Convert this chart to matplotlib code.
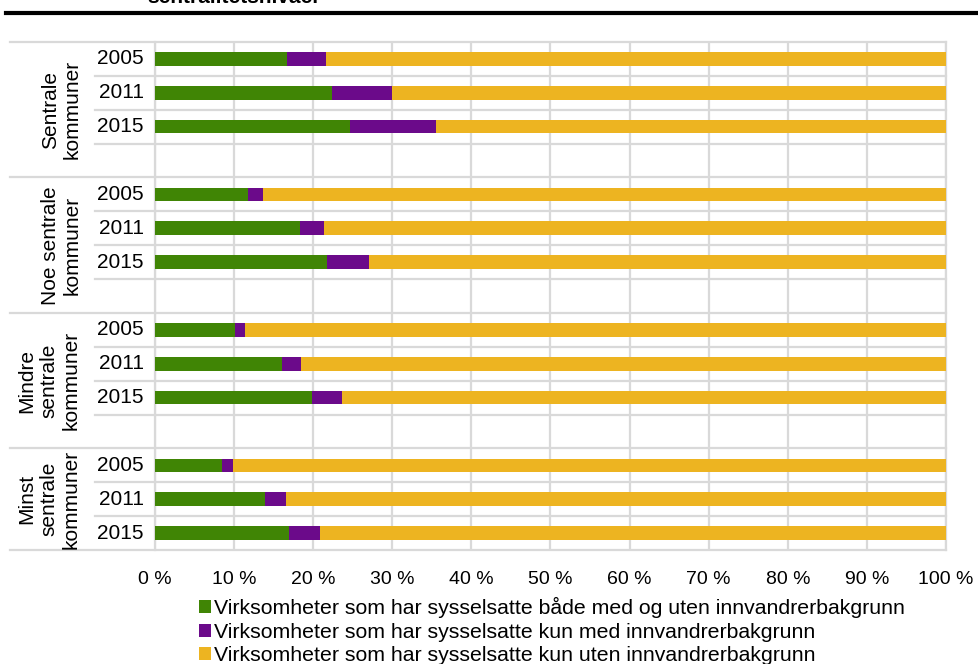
import numpy as np
import matplotlib.pyplot as plt
from matplotlib.patches import Patch

plt.rcParams["font.family"] = ["Liberation Sans", "DejaVu Sans"]

groups = ["Sentrale\nkommuner", "Noe sentrale\nkommuner",
          "Mindre\nsentrale\nkommuner", "Minst\nsentrale\nkommuner"]
years = ["2005", "2011", "2015"]

# andel virksomheter (%), rekkefølge: gruppe x år
both_share = [16.7, 22.4, 24.7,
              11.8, 18.3, 21.7,
              10.1, 16.0, 19.8,
              8.5, 13.9, 16.9]
only_immigrant = [4.9, 7.6, 10.8,
                  1.9, 3.1, 5.3,
                  1.3, 2.5, 3.8,
                  1.3, 2.6, 4.0]
only_native = [100 - a - b for a, b in zip(both_share, only_immigrant)]

series_labels = [
    "Virksomheter som har sysselsatte både med og uten innvandrerbakgrunn",
    "Virksomheter som har sysselsatte kun med innvandrerbakgrunn",
    "Virksomheter som har sysselsatte kun uten innvandrerbakgrunn",
]
colors = ["#408505", "#6b0a8a", "#edb421"]
grid_color = "#d9d9d9"

W, H = 979, 664
fig = plt.figure(figsize=(W / 100, H / 100), dpi=100)
ax = fig.add_axes([155 / W, 1 - 550 / H, (946 - 155) / W, (550 - 42) / H])

# posisjoner: 4 plasser per gruppe, siste plass tom
pos = np.array([g * 4 + i for g in range(len(groups)) for i in range(len(years))])

left = np.zeros(len(pos))
for vals, col in zip([both_share, only_immigrant, only_native], colors):
    ax.barh(pos, vals, left=left, height=0.4, color=col, zorder=3)
    left = left + np.array(vals)

ax.set_xlim(0, 100)
ax.set_ylim(14.5, -0.5)
ax.set_xticks(np.arange(0, 101, 10))
ax.set_xticklabels([f"{v} %" for v in range(0, 101, 10)], fontsize=14)
ax.tick_params(axis="x", length=0, pad=15)
ax.set_yticks([])
ax.grid(axis="x", color=grid_color, linewidth=1.6, zorder=0)
for s in ["top", "bottom"]:
    ax.spines[s].set_visible(False)
for s in ["left", "right"]:
    ax.spines[s].set_color(grid_color)
    ax.spines[s].set_linewidth(1.6)

# horisontale skillelinjer
ytr = ax.get_yaxis_transform()
span = 946 - 155
x_group = (10 - 155) / span
x_row = (95 - 155) / span
for k in range(15):
    y = k - 0.5
    start = x_group if k % 4 == 0 else x_row
    ax.plot([start, 1], [y, y], transform=ytr, color=grid_color,
            linewidth=1.6, clip_on=False, zorder=1)
ax.plot([x_group, 1], [14.5, 14.5], transform=ytr, color=grid_color,
        linewidth=1.6, clip_on=False, zorder=1)

# årstall og gruppenavn
x_year = (144 - 155) / span
for p, lab in zip(pos, years * len(groups)):
    ax.text(x_year, p, lab, transform=ytr, ha="right", va="center", fontsize=15)
grp_centers = [1.5, 5.5, 9.5, 13.0]
for c, g in zip(grp_centers, groups):
    n_lines = g.count("\n") + 1
    x_px = 74 - 12.5 * (n_lines - 1)
    ax.text((x_px - 155) / span, c, g, transform=ytr, ha="center", va="center",
            rotation=90, fontsize=15, linespacing=1.2, multialignment="center")

# tittellinje (avkuttet)
fig.add_artist(plt.Line2D([6 / W, 1], [1 - 13 / H, 1 - 13 / H], color="black",
                          linewidth=3))
fig.text(147 / W, 1 - 3 / H, "sentralitetsnivåer", fontsize=15, fontweight="bold",
         ha="left", va="baseline")

handles = [Patch(facecolor=c, edgecolor="none") for c in colors]
fig.legend(handles, series_labels, loc="upper left",
           bbox_to_anchor=(199 / W, 1 - 597 / H), frameon=False, fontsize=15.3,
           handlelength=0.55, handleheight=0.55, handletextpad=0.15,
           labelspacing=0.22, borderpad=0, borderaxespad=0)

fig.savefig("out.png", dpi=100)
